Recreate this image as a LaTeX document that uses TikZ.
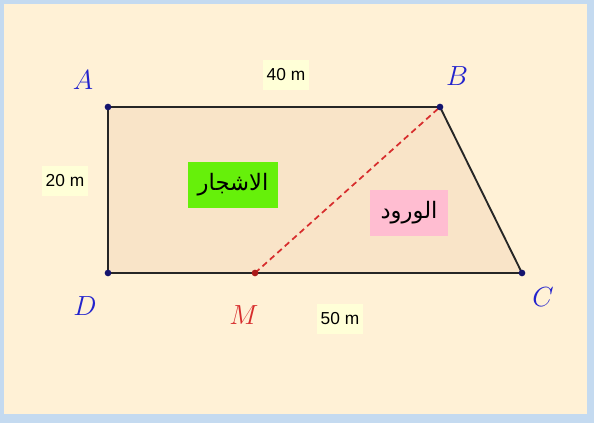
\documentclass[tikz,border=0pt]{standalone}
\usepackage{fontspec}
\setsansfont{Liberation Sans}
\newfontfamily\arabicfont[Script=Arabic]{DejaVu Sans}
\TeXXeTstate=1
\usetikzlibrary{positioning}
\definecolor{frameBlue}{RGB}{196,218,240}
\definecolor{paper}{RGB}{255,241,214}
\definecolor{landFill}{RGB}{249,228,200}
\definecolor{lenBox}{RGB}{255,255,215}
\definecolor{treeGreen}{RGB}{102,240,10}
\definecolor{roseBox}{RGB}{255,189,209}
\definecolor{ptBlue}{RGB}{20,20,110}
\definecolor{lblBlue}{RGB}{35,35,205}
\definecolor{lblRed}{RGB}{215,45,45}
\definecolor{ptRed}{RGB}{170,25,25}

\begin{document}
\begin{tikzpicture}[x=0.75pt, y=-0.75pt,
        dot/.style={circle, fill=#1, inner sep=0pt, minimum size=5pt},
        vname/.style={font=\huge, text=#1},
        len/.style={fill=lenBox, font=\sffamily\fontsize{13}{13}\selectfont,
                    minimum width=34pt, minimum height=23pt, inner sep=2pt},
        zone/.style={fill=#1, font=\arabicfont\fontsize{17}{17}\selectfont,
                     minimum height=34pt, inner xsep=5pt},
        side/.style={draw=black!85, line width=1.4pt}
      ]
        % frame and paper
        \fill[frameBlue] (0,0) rectangle (594,423);
        \fill[paper] (4,4) rectangle (587,414);
        \useasboundingbox (0,0) rectangle (594,423);

        % the plot of land
        \coordinate (A) at (108,107);
        \coordinate (B) at (440,107);
        \coordinate (C) at (522,273);
        \coordinate (D) at (108,273);
        \coordinate (M) at (255,273);
        \fill[landFill] (A) -- (B) -- (C) -- (D) -- cycle;
        \draw[side] (A) -- (B) -- (C) -- (D) -- cycle;
        \draw[draw=lblRed, line width=1.3pt, dash pattern=on 4.5pt off 3pt] (M) -- (B);

        \node[dot=ptBlue] (dA) at (A) {};
        \node[dot=ptBlue] (dB) at (B) {};
        \node[dot=ptBlue] (dC) at (C) {};
        \node[dot=ptBlue] (dD) at (D) {};
        \node[dot=ptRed]  (dM) at (M) {};

        \node[vname=lblBlue] (labA) at (83,80)  {$A$};
        \node[vname=lblBlue] (labB) at (457,76) {$B$};
        \node[vname=lblBlue] (labC) at (543,297) {$C$};
        \node[vname=lblBlue] (labD) at (85,306) {$D$};
        \node[vname=lblRed]  (labM) at (244,315) {$M$};

        % lengths
        \node[len] (top)    at (286,75)  {40 m};
        \node[len] (left)   at (65,181)  {20 m};
        \node[len] (bottom) at (340,319) {50 m};

        % zones
        \node[zone=treeGreen, minimum width=67pt] (trees) at (233,185)
              {\beginR الاشجار\endR};
        \node[zone=roseBox, minimum width=58pt] (roses) at (409,213)
              {\beginR الورود\endR};
      \end{tikzpicture}
\end{document}
